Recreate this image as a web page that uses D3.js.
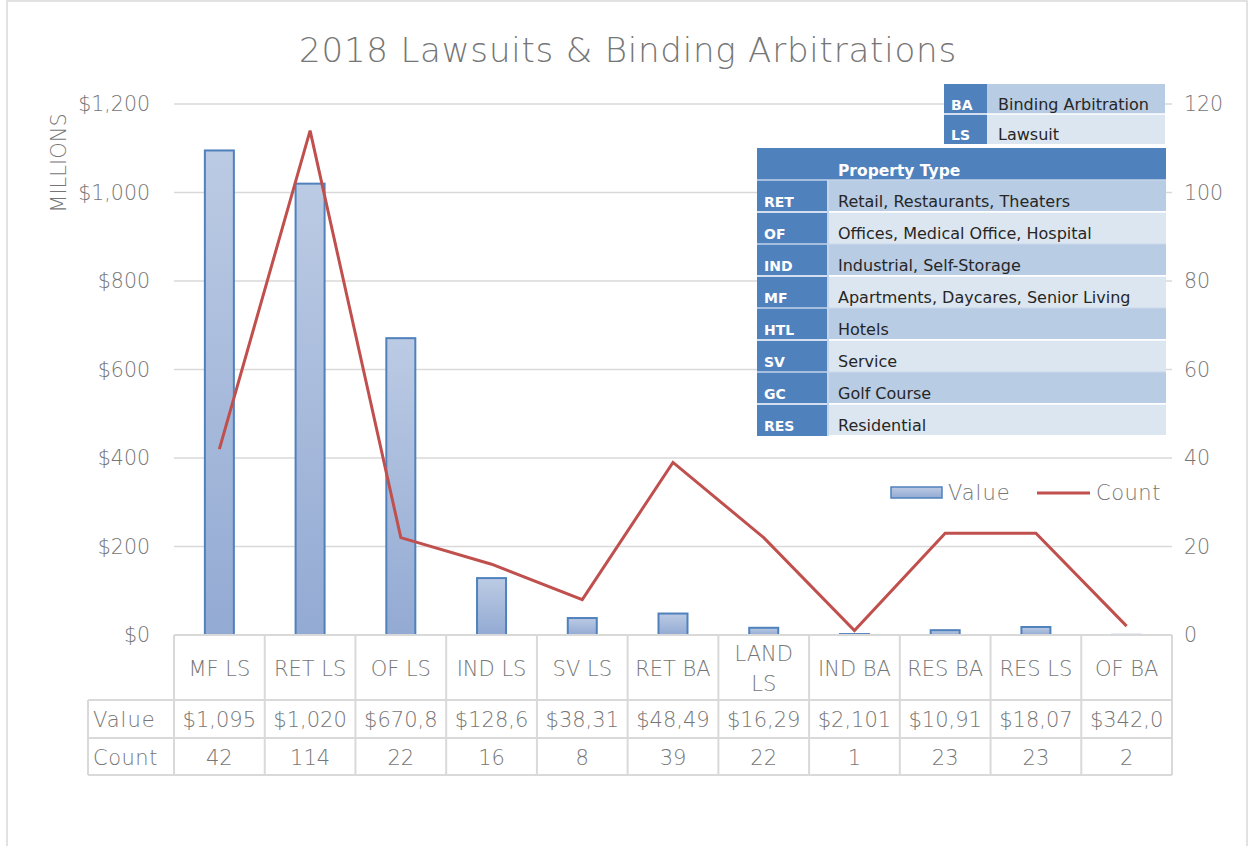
<!DOCTYPE html>
<html>
<head>
<meta charset="utf-8">
<script src="https://cdn.jsdelivr.net/npm/d3@7"></script>
<style>
  body { margin: 0; background: #fff; }
  text { font-family: "DejaVu Sans", sans-serif; }
</style>
</head>
<body>
<div id="chart"></div>
<script>
// data
const categories = ['MF LS', 'RET LS', 'OF LS', 'IND LS', 'SV LS', 'RET BA', 'LAND LS', 'IND BA', 'RES BA', 'RES LS', 'OF BA'];
const values = [1095, 1020, 670.8, 128.6, 38.31, 48.49, 16.29, 2.101, 10.91, 18.07, 0.342];
const counts = [42, 114, 22, 16, 8, 39, 22, 1, 23, 23, 2];
const valueLabels = ['$1,095', '$1,020', '$670,8', '$128,6', '$38,31', '$48,49', '$16,29', '$2,101', '$10,91', '$18,07', '$342,0'];
const leftTicks = [0, 200, 400, 600, 800, 1000, 1200];
const rightTicks = [0, 20, 40, 60, 80, 100, 120];
const caseTypes = [['BA', 'Binding Arbitration'], ['LS', 'Lawsuit']];
const propertyTypes = [
  ['RET', 'Retail, Restaurants, Theaters'],
  ['OF', 'Offices, Medical Office, Hospital'],
  ['IND', 'Industrial, Self-Storage'],
  ['MF', 'Apartments, Daycares, Senior Living'],
  ['HTL', 'Hotels'],
  ['SV', 'Service'],
  ['GC', 'Golf Course'],
  ['RES', 'Residential']
];

const width = 1250, height = 846;
const grey = '#767676', lineGrey = '#d9d9d9';
const dark = '#4f81bd', mid = '#b8cce4', light = '#dce6f1';

const svg = d3.select('#chart').append('svg')
  .attr('width', width)
  .attr('height', height)
  .style('font-weight', 200);

const defs = svg.append('defs');
const grad = defs.append('linearGradient').attr('id', 'barGrad')
  .attr('x1', 0).attr('y1', 0).attr('x2', 0).attr('y2', 1);
grad.append('stop').attr('offset', '0%').attr('stop-color', '#bccbe4');
grad.append('stop').attr('offset', '100%').attr('stop-color', '#93aad3');

// chart frame
svg.append('rect')
  .attr('x', 7).attr('y', 1).attr('width', 1240).attr('height', 860)
  .attr('fill', 'none').attr('stroke', lineGrey).attr('stroke-width', 1.5);

const plotLeft = 174, plotRight = 1172, plotTop = 104, plotBottom = 635;

const x = d3.scaleBand().domain(categories).range([plotLeft, plotRight]).paddingInner(0).paddingOuter(0);
const yL = d3.scaleLinear().domain([0, 1200]).range([plotBottom, plotTop]);
const yR = d3.scaleLinear().domain([0, 120]).range([plotBottom, plotTop]);

// title
svg.append('text')
  .attr('x', 628).attr('y', 62)
  .attr('text-anchor', 'middle')
  .attr('font-size', 34)
  .attr('letter-spacing', 0.8)
  .attr('fill', grey)
  .text('2018 Lawsuits & Binding Arbitrations');

// gridlines
svg.append('g')
  .selectAll('line')
  .data(leftTicks)
  .enter().append('line')
  .attr('x1', plotLeft).attr('x2', plotRight)
  .attr('y1', d => yL(d)).attr('y2', d => yL(d))
  .attr('stroke', lineGrey).attr('stroke-width', 1.5);

// left axis
const axisL = svg.append('g')
  .attr('transform', `translate(${plotLeft},0)`)
  .call(d3.axisLeft(yL).tickValues(leftTicks).tickSize(0).tickPadding(24)
    .tickFormat(d => '$' + d3.format(',')(d)));
axisL.select('.domain').remove();
axisL.selectAll('text').attr('font-size', 20.5).attr('fill', grey)
  .attr('font-family', '"DejaVu Sans", sans-serif');

// right axis
const axisR = svg.append('g')
  .attr('transform', `translate(${plotRight},0)`)
  .call(d3.axisRight(yR).tickValues(rightTicks).tickSize(0).tickPadding(12));
axisR.select('.domain').remove();
axisR.selectAll('text').attr('font-size', 20.5).attr('fill', grey)
  .attr('font-family', '"DejaVu Sans", sans-serif');

// axis title
svg.append('text')
  .attr('transform', 'translate(66,163) rotate(-90)')
  .attr('text-anchor', 'middle')
  .attr('font-size', 21)
  .attr('fill', grey)
  .text('MILLIONS');

// bars
const barW = 29;
svg.append('g')
  .selectAll('rect')
  .data(values)
  .enter().append('rect')
  .attr('x', (d, i) => x(categories[i]) + x.bandwidth() / 2 - barW / 2)
  .attr('y', d => yL(d))
  .attr('width', barW)
  .attr('height', d => plotBottom - yL(d))
  .attr('fill', 'url(#barGrad)')
  .attr('stroke', dark)
  .attr('stroke-width', 2);

// count line
const line = d3.line()
  .x((d, i) => x(categories[i]) + x.bandwidth() / 2)
  .y(d => yR(d));
svg.append('path')
  .datum(counts)
  .attr('d', line)
  .attr('fill', 'none')
  .attr('stroke', '#c0504d')
  .attr('stroke-width', 3);

// data table
const tbl = svg.append('g');
const rowLabelX = 88;
const rowY = [plotBottom, 700, 738, 775];
tbl.selectAll('line.h')
  .data(rowY)
  .enter().append('line')
  .attr('x1', (d, i) => i === 0 ? plotLeft : rowLabelX)
  .attr('x2', plotRight)
  .attr('y1', d => d).attr('y2', d => d)
  .attr('stroke', lineGrey).attr('stroke-width', 2);
const colX = categories.map(c => x(c)).concat([plotRight]);
tbl.selectAll('line.v')
  .data(colX)
  .enter().append('line')
  .attr('x1', d => d).attr('x2', d => d)
  .attr('y1', plotBottom).attr('y2', rowY[3])
  .attr('stroke', lineGrey).attr('stroke-width', 2);
tbl.append('line')
  .attr('x1', rowLabelX).attr('x2', rowLabelX)
  .attr('y1', rowY[1]).attr('y2', rowY[3])
  .attr('stroke', lineGrey).attr('stroke-width', 2);

// category labels
categories.forEach((c, i) => {
  const cx = x(c) + x.bandwidth() / 2;
  const t = tbl.append('text')
    .attr('x', cx)
    .attr('text-anchor', 'middle')
    .attr('font-size', 21)
    .attr('fill', grey);
  if (c === 'LAND LS') {
    t.append('tspan').attr('x', cx).attr('y', 661).text('LAND');
    t.append('tspan').attr('x', cx).attr('y', 691).text('LS');
  } else {
    t.attr('y', 676).text(c);
  }
});

tbl.selectAll('text.val')
  .data(valueLabels)
  .enter().append('text')
  .attr('x', (d, i) => x(categories[i]) + x.bandwidth() / 2)
  .attr('y', 727)
  .attr('text-anchor', 'middle')
  .attr('font-size', 21)
  .attr('fill', grey)
  .text(d => d);

tbl.selectAll('text.cnt')
  .data(counts)
  .enter().append('text')
  .attr('x', (d, i) => x(categories[i]) + x.bandwidth() / 2)
  .attr('y', 765)
  .attr('text-anchor', 'middle')
  .attr('font-size', 21)
  .attr('fill', grey)
  .text(d => d);

tbl.append('text').attr('x', 93).attr('y', 727).attr('font-size', 21).attr('letter-spacing', 1).attr('fill', grey).text('Value');
tbl.append('text').attr('x', 93).attr('y', 765).attr('font-size', 21).attr('letter-spacing', 0.5).attr('fill', grey).text('Count');

// legend
const leg = svg.append('g');
leg.append('rect')
  .attr('x', 891).attr('y', 487).attr('width', 51).attr('height', 11)
  .attr('fill', 'url(#barGrad)').attr('stroke', dark).attr('stroke-width', 1.5);
leg.append('text').attr('x', 948).attr('y', 500).attr('font-size', 21).attr('letter-spacing', 1).attr('fill', grey).text('Value');
leg.append('line')
  .attr('x1', 1037).attr('x2', 1090).attr('y1', 493).attr('y2', 493)
  .attr('stroke', '#c0504d').attr('stroke-width', 3);
leg.append('text').attr('x', 1096).attr('y', 500).attr('font-size', 21).attr('letter-spacing', 0.5).attr('fill', grey).text('Count');

// case type key
const key1 = svg.append('g');
caseTypes.forEach((r, i) => {
  const y0 = 84 + i * 30;
  key1.append('rect').attr('x', 944).attr('y', y0).attr('width', 43).attr('height', 30).attr('fill', dark);
  key1.append('rect').attr('x', 987).attr('y', y0).attr('width', 178).attr('height', 30).attr('fill', i % 2 === 0 ? mid : light);
  key1.append('text').attr('x', 951).attr('y', y0 + 26).attr('font-size', 14).style('font-weight', 700)
    .attr('fill', '#fff').text(r[0]);
  key1.append('text').attr('x', 998).attr('y', y0 + 26).attr('font-size', 16).style('font-weight', 400)
    .attr('fill', '#262626').text(r[1]);
});
key1.append('line').attr('x1', 944).attr('x2', 1165).attr('y1', 114).attr('y2', 114)
  .attr('stroke', '#fff').attr('stroke-width', 1.5);

// property type key
const key2 = svg.append('g');
const kx = 757, kw = 409, kc = 71, rh = 32, ky = 148;
key2.append('rect').attr('x', kx).attr('y', ky).attr('width', kw).attr('height', rh).attr('fill', dark);
key2.append('text').attr('x', kx + kc + 10).attr('y', ky + 28).attr('font-size', 15.5).style('font-weight', 700)
  .attr('fill', '#fff').text('Property Type');
propertyTypes.forEach((r, i) => {
  const y0 = ky + rh * (i + 1);
  key2.append('rect').attr('x', kx).attr('y', y0).attr('width', kc).attr('height', rh).attr('fill', dark);
  key2.append('rect').attr('x', kx + kc).attr('y', y0).attr('width', kw - kc).attr('height', rh - 1)
    .attr('fill', i % 2 === 0 ? mid : light);
  key2.append('line').attr('x1', kx).attr('x2', kx + kw).attr('y1', y0).attr('y2', y0)
    .attr('stroke', i % 2 === 0 ? '#c5d5ea' : '#fff').attr('stroke-width', 1.5);
  key2.append('text').attr('x', kx + 7).attr('y', y0 + 27).attr('font-size', 14).style('font-weight', 700)
    .attr('fill', '#fff').text(r[0]);
  key2.append('text').attr('x', kx + kc + 10).attr('y', y0 + 27).attr('font-size', 16).style('font-weight', 400)
    .attr('fill', '#262626').text(r[1]);
});
key2.append('line').attr('x1', kx + kc).attr('x2', kx + kc).attr('y1', ky + rh).attr('y2', ky + rh * 9)
  .attr('stroke', '#c5d5ea').attr('stroke-width', 2);
</script>
</body>
</html>
